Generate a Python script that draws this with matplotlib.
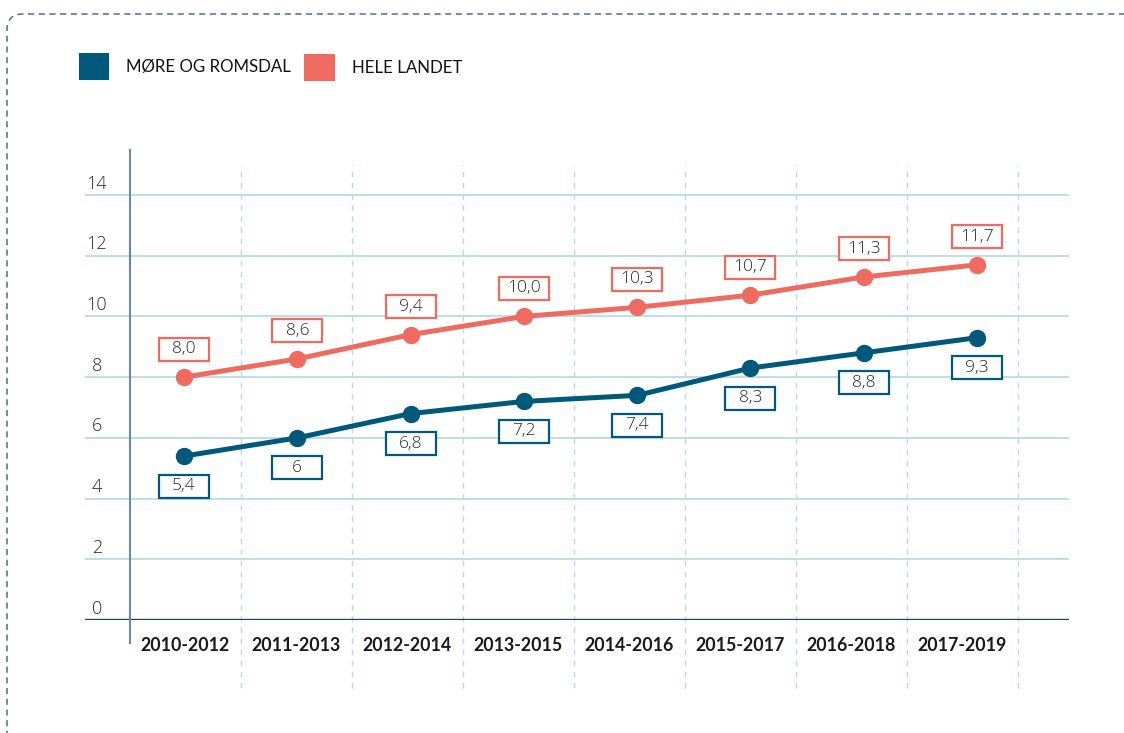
import matplotlib
matplotlib.use("Agg")
import matplotlib.pyplot as plt
from matplotlib.patches import Rectangle, FancyBboxPatch
from matplotlib.transforms import IdentityTransform

periods = ["2010-2012", "2011-2013", "2012-2014", "2013-2015",
           "2014-2016", "2015-2017", "2016-2018", "2017-2019"]
more_romsdal = [5.4, 6.0, 6.8, 7.2, 7.4, 8.3, 8.8, 9.3]
more_labels = ["5,4", "6", "6,8", "7,2", "7,4", "8,3", "8,8", "9,3"]
hele_landet = [8.0, 8.6, 9.4, 10.0, 10.3, 10.7, 11.3, 11.7]
hele_labels = ["8,0", "8,6", "9,4", "10,0", "10,3", "10,7", "11,3", "11,7"]
yticks = [0, 2, 4, 6, 8, 10, 12, 14]

BLUE = "#00587a"
RED = "#ef6b5f"
GRID = "#b9dce4"
DARK = "#1e4656"
TXT = "#2a2a2a"
NUMFONT = "Open Sans"

W, H = 1124, 733
fig = plt.figure(figsize=(W / 100, H / 100), dpi=100)

# axes spans the horizontal gridlines, y=0 line at bottom
left, right, top, bottom = 85, 1069, 150, 620
rect = [left / W, 1 - bottom / H, (right - left) / W, (bottom - top) / H]
ax = fig.add_axes(rect)
xpx_per = 111.0
ypx_per = (620 - 195) / 14.0
ax.set_xlim((left - 185) / xpx_per, (right - 185) / xpx_per)
ax.set_ylim(0, (bottom - top) / ypx_per)
ax.axis("off")

# the lines in the original are spread a bit wider than the category grid
lx = fig.add_axes(rect)
lpx_per = (977 - 184) / 7.0
lx.set_xlim((left - 184) / lpx_per, (right - 184) / lpx_per)
lx.set_ylim(ax.get_ylim())
lx.axis("off")

# horizontal gridlines
for t in yticks[1:]:
    ax.axhline(t, color=GRID, lw=1.3, zorder=1)
ax.axhline(0, color=DARK, lw=2.4, zorder=2)
for t in yticks:
    ax.text(-0.795, t + 0.08, str(t), ha="center", va="bottom", fontsize=13,
            family=NUMFONT, weight=300, color=TXT)

# vertical dashed separators
n = len(periods)
for i in range(n):
    ax.plot([i + 0.5, i + 0.5], [-2.24, 14.99], color=GRID, lw=1,
            ls=(0, (4, 4)), clip_on=False, zorder=1)

# y axis line
ax.plot([-0.495, -0.495], [-0.76, 15.48], color="#6f8a96", lw=1.5,
        clip_on=False, zorder=2)

# x labels
for i, p in enumerate(periods):
    ax.text(i, -0.85, p, ha="center", va="center", fontsize=12.8,
            family="Lato", weight="bold", color="#1a1a1a")

xs = list(range(n))
lx.plot(xs, hele_landet, color=RED, lw=3.6, marker="o", ms=11.5, zorder=4,
        clip_on=False)
lx.plot(xs, more_romsdal, color=BLUE, lw=3.6, marker="o", ms=11.5, zorder=4,
        clip_on=False)

# value boxes
fig.canvas.draw()


def value_box(x, y, label, color, off):
    px, py = lx.transData.transform((x, y))
    cy = py + off
    fig.patches.append(Rectangle((px - 25, cy - 11.5), 50, 23,
                                 transform=IdentityTransform(),
                                 facecolor="white", edgecolor=color, lw=1.6,
                                 zorder=5))
    fig.text(px / W, cy / H, label, ha="center", va="center", fontsize=12.5,
             family=NUMFONT, weight=300, color=TXT, zorder=6)


for x, v, lab in zip(xs, hele_landet, hele_labels):
    value_box(x, v, lab, RED, 28)
for x, v, lab in zip(xs, more_romsdal, more_labels):
    value_box(x, v, lab, BLUE, -30)

# legend
fig.patches.append(Rectangle((79, H - 80), 30, 27, transform=IdentityTransform(),
                             facecolor=BLUE, edgecolor="none"))
fig.text(126 / W, 1 - 67 / H, "MØRE OG ROMSDAL", ha="left", va="center",
         fontsize=12.2, family="Lato", color="#111111")
fig.patches.append(Rectangle((304, H - 81), 31, 27, transform=IdentityTransform(),
                             facecolor=RED, edgecolor="none"))
fig.text(352 / W, 1 - 68 / H, "HELE LANDET", ha="left", va="center",
         fontsize=12.2, family="Lato", color="#111111")

# dashed frame
frame = FancyBboxPatch((7, -20), 1140, H - 14 + 20,
                       boxstyle="round,pad=0,rounding_size=16",
                       transform=IdentityTransform(), facecolor="none",
                       edgecolor="#4d7080", lw=1.1, ls=(0, (4, 3)))
fig.patches.append(frame)

fig.savefig("out.png", dpi=100)
